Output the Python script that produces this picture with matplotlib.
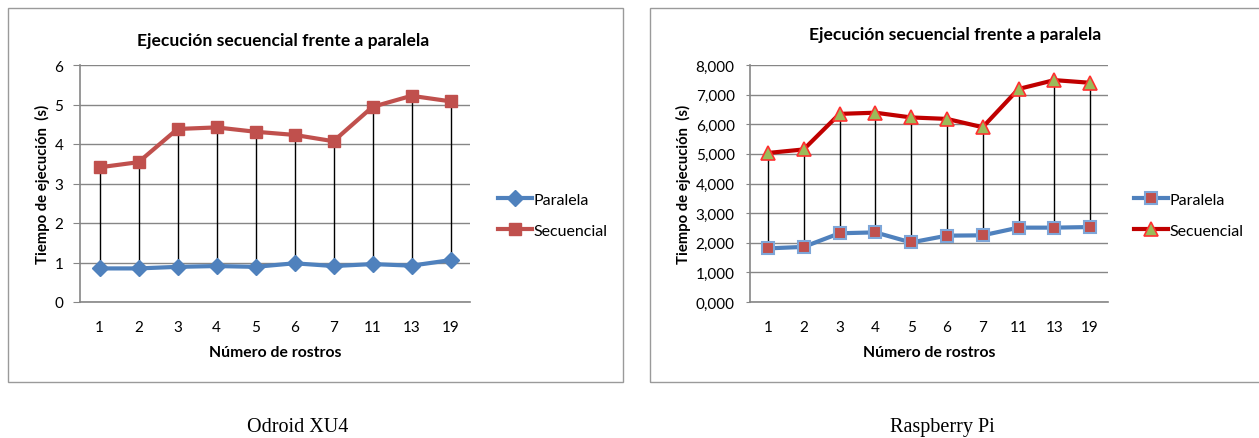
import matplotlib
matplotlib.use("Agg")
import matplotlib.pyplot as plt
from matplotlib.patches import Rectangle
from matplotlib.ticker import FuncFormatter

# Data
rostros = ["1", "2", "3", "4", "5", "6", "7", "11", "13", "19"]

odroid_paralela = [0.85, 0.85, 0.89, 0.91, 0.89, 0.98, 0.91, 0.96, 0.92, 1.06]
odroid_secuencial = [3.41, 3.54, 4.38, 4.42, 4.31, 4.23, 4.07, 4.94, 5.22, 5.08]

rpi_paralela = [1810, 1860, 2320, 2350, 2010, 2240, 2250, 2510, 2510, 2530]
rpi_secuencial = [5030, 5150, 6350, 6390, 6230, 6180, 5900, 7190, 7490, 7400]

title = "Ejecución secuencial frente a paralela"
ylabel = "Tiempo de ejecución  (s)"
xlabel = "Número de rostros"
captions = ["Odroid XU4", "Raspberry Pi"]

W, H = 1259, 439
fig = plt.figure(figsize=(W / 100, H / 100), dpi=100)
plt.rcParams["font.family"] = ["Lato", "DejaVu Sans"]

GRID = "#868686"


def px_axes(x0, y0, x1, y1):
    return fig.add_axes([x0 / W, 1 - y1 / H, (x1 - x0) / W, (y1 - y0) / H])


def frame(x0, y0, x1, y1):
    fig.patches.append(Rectangle((x0 / W, 1 - y1 / H), (x1 - x0) / W, (y1 - y0) / H,
                                 transform=fig.transFigure, fill=False,
                                 edgecolor="#9a9a9a", linewidth=1.0))


def style_axes(ax, ymax, step, ypad, ticklen, ylabel_x):
    x = range(len(rostros))
    ax.set_xlim(-0.5, len(rostros) - 0.5)
    ax.set_ylim(0, ymax)
    ax.set_yticks([i * step for i in range(int(round(ymax / step)) + 1)])
    ax.set_xticks(list(x))
    ax.set_xticklabels(rostros)
    ax.yaxis.grid(True, color=GRID, linewidth=1.0)
    ax.set_axisbelow(True)
    for s in ("top", "right"):
        ax.spines[s].set_visible(False)
    for s in ("left", "bottom"):
        ax.spines[s].set_color(GRID)
        ax.spines[s].set_linewidth(1.2)
    ax.tick_params(axis="y", length=ticklen, color=GRID, labelsize=11, pad=ypad)
    ax.tick_params(axis="x", length=0, labelsize=11, pad=13)
    ax.set_xlabel(xlabel, fontsize=11.3, fontweight="bold", labelpad=8)
    ax.set_ylabel(ylabel, fontsize=10.7, fontweight="bold", va="center")
    ax.yaxis.set_label_coords(ylabel_x, 0.5)


x = list(range(len(rostros)))

# ---- Odroid XU4 ----
frame(8, 9, 623, 383)
ax1 = px_axes(80, 66, 470, 303)
style_axes(ax1, 6, 1, 7, 5, (42 - 80) / 390)
ax1.vlines(x, odroid_paralela, odroid_secuencial, colors="black", linewidth=1.0, zorder=2)
l1, = ax1.plot(x, odroid_paralela, color="#4F81BD", linewidth=3, marker="D",
               markersize=8, markerfacecolor="#4F81BD", markeredgecolor="#4F81BD",
               label="Paralela", zorder=3)
l2, = ax1.plot(x, odroid_secuencial, color="#C0504D", linewidth=3, marker="s",
               markersize=9, markerfacecolor="#C0504D", markeredgecolor="#C0504D",
               label="Secuencial", zorder=3)
fig.text(283 / W, 1 - 41 / H, title, ha="center", va="center",
         fontsize=12.6, fontweight="bold")
fig.legend(handles=[l1, l2], loc="center left",
           bbox_to_anchor=(484 / W, 1 - 216 / H), frameon=False,
           fontsize=11.5, handlelength=2.1, handletextpad=0.12, labelspacing=1.05)

# ---- Raspberry Pi ----
frame(650, 9, 1262, 383)
ax2 = px_axes(750, 66, 1108, 303)
style_axes(ax2, 8000, 1000, 8, 3, (683 - 750) / 358)
ax2.yaxis.set_major_formatter(FuncFormatter(lambda v, p: f"{int(v) // 1000},000"))
ax2.vlines(x, rpi_paralela, rpi_secuencial, colors="black", linewidth=1.0, zorder=2)
r1, = ax2.plot(x, rpi_paralela, color="#4F81BD", linewidth=3, marker="s",
               markersize=9, markerfacecolor="#C0504D", markeredgecolor="#7EA6D8",
               markeredgewidth=1.5, label="Paralela", zorder=3)
r2, = ax2.plot(x, rpi_secuencial, color="#C00000", linewidth=3, marker="^",
               markersize=10, markerfacecolor="#9BBB59", markeredgecolor="#FF3030",
               markeredgewidth=1.2, label="Secuencial", zorder=3)
fig.text(955 / W, 1 - 35 / H, title, ha="center", va="center",
         fontsize=12.6, fontweight="bold")
fig.legend(handles=[r1, r2], loc="center left",
           bbox_to_anchor=(1120 / W, 1 - 216 / H), frameon=False,
           fontsize=11.5, handlelength=2.1, handletextpad=0.12, labelspacing=1.05)

# Captions
for cx, cap in zip((298, 942), captions):
    fig.text(cx / W, 1 - 428 / H, cap, ha="center", va="center",
             fontsize=14.5, family=["Liberation Serif", "DejaVu Serif"])

fig.savefig("out.png", dpi=100)
